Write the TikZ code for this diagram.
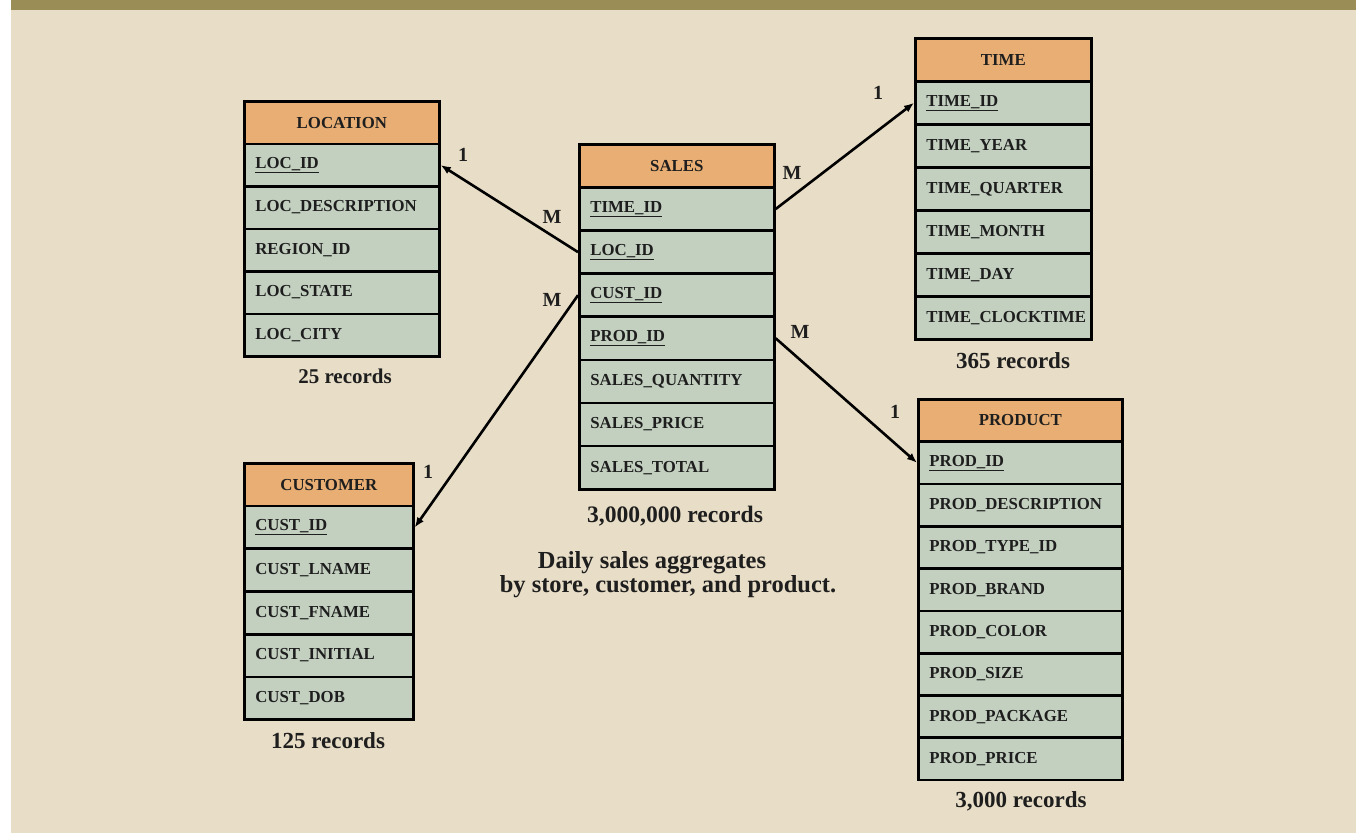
\documentclass[tikz,border=0pt]{standalone}
\usepackage{fontspec}
\setmainfont{Liberation Serif}
\usetikzlibrary{arrows.meta}
\definecolor{bgc}{HTML}{E8DDC6}
\definecolor{barc}{HTML}{9A8D55}
\definecolor{headc}{HTML}{E8AE73}
\definecolor{rowc}{HTML}{C3D0C0}
\definecolor{txtc}{HTML}{1E1E1E}
\begin{document}
\begin{tikzpicture}[x=1pt,y=-1pt,
  cell/.style={draw=black, line width=2.7pt, anchor=north west, inner ysep=0pt,
    text=txtc, font=\bfseries\fontsize{16.8}{19}\selectfont},
  hdr/.style={cell, fill=headc, inner xsep=0pt, align=center},
  fld/.style={cell, fill=rowc, inner xsep=11pt, align=left},
  note/.style={text=txtc, font=\bfseries\fontsize{23}{25}\selectfont, inner sep=0pt},
  card/.style={text=txtc, font=\bfseries\fontsize{20}{22}\selectfont, inner sep=0pt},
  link/.style={draw=black, line width=2.6pt, -{Latex[length=10pt,width=8pt]}}
]
\useasboundingbox (0,0) rectangle (1356,833);
\fill[white] (0,0) rectangle (1356,833);
\fill[bgc] (11,0) rectangle (1356,833);
\fill[barc] (11,0) rectangle (1356,10);

% LOCATION
\node[hdr, text width=195pt, minimum height=42.5pt] (loc-0) at (243,100) {LOCATION};
\foreach \t [count=\i] in {{\underline{LOC\_ID}},LOC\_DESCRIPTION,REGION\_ID,LOC\_STATE,LOC\_CITY}
  \node[fld, text width=173pt, minimum height=42.5pt] (loc-\i) at (243,{100+\i*42.5}) {\t};
\node[note, font=\bfseries\fontsize{21}{25}\selectfont] (locrec) at (345,376) {25 records};

% SALES
\node[hdr, text width=195pt, minimum height=43.1pt] (sal-0) at (578,143) {SALES};
\foreach \t [count=\i] in {{\underline{TIME\_ID}},{\underline{LOC\_ID}},{\underline{CUST\_ID}},{\underline{PROD\_ID}},SALES\_QUANTITY,SALES\_PRICE,SALES\_TOTAL}
  \node[fld, text width=173pt, minimum height=43.1pt] (sal-\i) at (578,{143+\i*43.1}) {\t};
\node[note, font=\bfseries\fontsize{23.6}{25}\selectfont] (salrec) at (675,516) {3,000,000 records};
\node[note, font=\bfseries\fontsize{24.5}{25}\selectfont] (salnote1) at (652,563) {Daily sales aggregates};
\node[note, font=\bfseries\fontsize{24.5}{25}\selectfont] (salnote2) at (668,587) {by store, customer, and product.};

% TIME
\node[hdr, text width=176pt, minimum height=43pt] (tim-0) at (914,37) {TIME};
\foreach \t [count=\i] in {{\underline{TIME\_ID}},TIME\_YEAR,TIME\_QUARTER,TIME\_MONTH,TIME\_DAY,TIME\_CLOCKTIME}
  \node[fld, text width=154pt, minimum height=43pt] (tim-\i) at (914,{37+\i*43}) {\t};
\node[note] (timrec) at (1013,361) {365 records};

% PRODUCT
\node[hdr, text width=204pt, minimum height=42.3pt] (prd-0) at (917,398) {PRODUCT};
\foreach \t [count=\i] in {{\underline{PROD\_ID}},PROD\_DESCRIPTION,PROD\_TYPE\_ID,PROD\_BRAND,PROD\_COLOR,PROD\_SIZE,PROD\_PACKAGE,PROD\_PRICE}
  \node[fld, text width=182pt, minimum height=42.3pt] (prd-\i) at (917,{398+\i*42.3}) {\t};
\node[note] (prdrec) at (1021,801) {3,000 records};

% CUSTOMER
\node[hdr, text width=169pt, minimum height=42.7pt] (cus-0) at (243,462) {CUSTOMER};
\foreach \t [count=\i] in {{\underline{CUST\_ID}},CUST\_LNAME,CUST\_FNAME,CUST\_INITIAL,CUST\_DOB}
  \node[fld, text width=147pt, minimum height=42.7pt] (cus-\i) at (243,{462+\i*42.7}) {\t};
\node[note] (cusrec) at (328,741) {125 records};

% connectors
\draw[link] (sal-2.west) -- (loc-1.east);
\draw[link] (sal-3.west) -- (cus-1.east);
\draw[link] (sal-1.east) -- (tim-1.west);
\draw[link] (sal-4.east) -- (prd-1.west);

% cardinalities
\node[card] (c1) at (463,155) {1};
\node[card] (c2) at (552,217) {M};
\node[card] (c3) at (552,300) {M};
\node[card] (c4) at (428,472) {1};
\node[card] (c5) at (792,173) {M};
\node[card] (c6) at (878,93) {1};
\node[card] (c7) at (800,332) {M};
\node[card] (c8) at (895,412) {1};
\end{tikzpicture}
\end{document}
